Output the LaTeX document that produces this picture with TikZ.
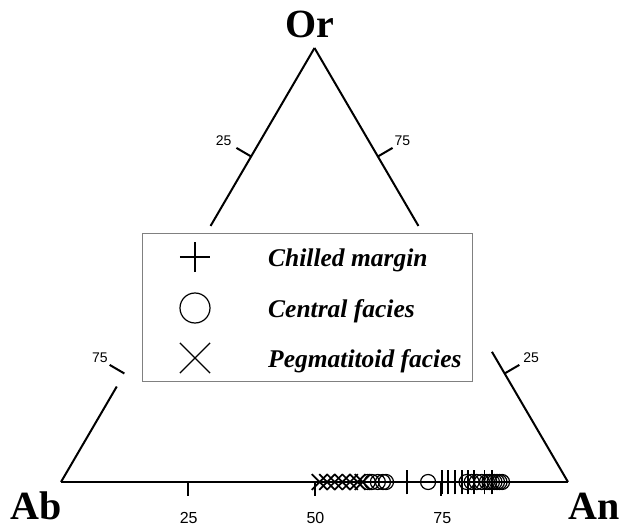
\documentclass[tikz,border=0pt]{standalone}
\usepackage{fontspec}
\setmainfont{Liberation Serif}
\setsansfont{Liberation Sans}
\usetikzlibrary{calc,shapes.misc}
\tikzset{
    apex/.style={
        font=\fontsize{40}{40}\selectfont\bfseries,
        inner sep=0pt
    },
    ticklabel/.style={
        font=\sffamily\fontsize{14}{14}\selectfont,
        inner sep=1pt
    },
    axislabel/.style={
        font=\sffamily\fontsize{16}{16}\selectfont,
        inner sep=0pt
    },
    side/.style={
        line width=2pt
    },
    legendtext/.style={
        font=\fontsize{25.5}{25.5}\selectfont\bfseries\itshape,
        inner sep=0pt,
        anchor=base west
    },
    pmark/.style={
        cross out,
        draw,
        rotate=45,
        minimum size=16pt,
        inner sep=0pt,
        line width=1.5pt
    },
    omark/.style={
        circle,
        draw,
        minimum size=15pt,
        inner sep=0pt,
        line width=1.2pt
    },
    xmark/.style={
        cross out,
        draw,
        minimum size=14pt,
        inner sep=0pt,
        line width=1.7pt
    }
}

\begin{document}
\begin{tikzpicture}[x=1pt,y=-1pt]
\useasboundingbox (0,0) rectangle (622,527);
\coordinate (Ab) at (61,482);
\coordinate (An) at (568,482);
\coordinate (Or) at (314.5,48);
\node[apex,anchor=base] (labOr) at (310,38) {Or};
\node[apex,anchor=base] (labAb) at (36,519) {Ab};
\node[apex,anchor=base] (labAn) at (594,519) {An};

\coordinate (ltop) at ($(Ab)!0.59!(Or)$);
\coordinate (lbot) at ($(Ab)!0.22!(Or)$);
\coordinate (rtop) at ($(An)!0.59!(Or)$);
\coordinate (rbot) at ($(An)!0.30!(Or)$);
\draw[side] (Or) -- (ltop);
\draw[side] (Ab) -- (lbot);
\draw[side] (Or) -- (rtop);
\draw[side] (An) -- (rbot);
\draw[side] (Ab) -- (An);

\coordinate (l1) at ($(Ab)!0.75!(Or)$);
\coordinate (l2) at ($(Ab)!0.25!(Or)$);
\coordinate (r1) at ($(An)!0.75!(Or)$);
\coordinate (r2) at ($(An)!0.25!(Or)$);
\draw[side] (l1) -- ++(-14.7,-8.6) node[ticklabel,anchor=south east,xshift=-3pt] (tl1) {25};
\draw[side] (l2) -- ++(-14.7,-8.6) node[ticklabel,anchor=south east] (tl2) {75};
\draw[side] (r1) -- ++(14.7,-8.6) node[ticklabel,anchor=south west] (tr1) {75};
\draw[side] (r2) -- ++(14.7,-8.6) node[ticklabel,anchor=south west,xshift=2pt] (tr2) {25};
\foreach \f/\t in {0.25/25,0.5/50,0.75/75}{
  \coordinate (b\t) at ($(Ab)!\f!(An)$);
  \draw[side] (b\t) -- ++(0,14);
  \node[axislabel,anchor=north] (tb\t) at ($(b\t)+(1,30)$) {\t};
}

\foreach \f [count=\i] in {0.51,0.525,0.54,0.555,0.57,0.585,0.595}
  \node[xmark] (x\i) at ($(Ab)!\f!(An)$) {};
\foreach \f [count=\i] in {0.605,0.613,0.625,0.635,0.641,0.724,0.80,0.81,0.82,0.83,0.84,0.845,0.85,0.855,0.86,0.865,0.87}
  \node[omark] (o\i) at ($(Ab)!\f!(An)$) {};
\foreach \f [count=\i] in {0.682,0.751,0.763,0.777,0.791,0.803,0.815,0.835,0.85}
  \node[pmark] (p\i) at ($(Ab)!\f!(An)$) {};

\node[draw=gray,line width=0.6pt,minimum width=330pt,minimum height=148pt,inner sep=0pt,fill=white] (legend) at (307,307) {};
\node[pmark,minimum size=20pt,line width=1.3pt] (lp) at (195,257) {};
\node[omark,minimum size=30pt,line width=1.2pt] (lo) at (195,308) {};
\node[xmark,minimum size=29pt,line width=1.2pt] (lx) at (195,358) {};
\node[legendtext] (tp) at (268,266) {Chilled margin};
\node[legendtext] (to) at (268,317) {Central facies};
\node[legendtext] (tx) at (268,367) {Pegmatitoid facies};
\end{tikzpicture}
\end{document}
